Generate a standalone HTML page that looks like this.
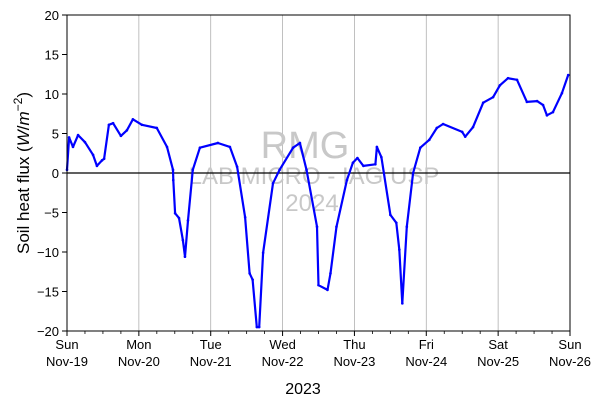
<!DOCTYPE html>
<html><head><meta charset="utf-8"><style>
body{margin:0;background:#fff}
svg text{font-family:"Liberation Sans","DejaVu Sans",sans-serif}
</style></head><body>
<svg id="chart" width="605" height="408">
<g id="grid"></g>
<g id="wm">
<text x="305" y="158" font-size="38" fill="#c8c8c8" text-anchor="middle">RMG</text>
<text x="314" y="184" font-size="24" fill="#c8c8c8" text-anchor="middle">LAB MICRO - IAG USP</text>
<text x="312" y="211" font-size="24" fill="#c8c8c8" text-anchor="middle">2024</text>
</g>
<line x1="67" x2="570" y1="173" y2="173" stroke="#000" stroke-width="1.2"/>
<g id="series"></g>
<rect x="67" y="15" width="503" height="316" fill="none" stroke="#000" stroke-width="1"/>
<g id="axes"></g>
<text x="303" y="394" font-size="16" text-anchor="middle">2023</text>
<text transform="translate(29,173) rotate(-90)" font-size="17" text-anchor="middle">Soil heat flux (<tspan font-style="italic">W</tspan>/<tspan font-style="italic">m</tspan><tspan font-size="12" dy="-7">−2</tspan><tspan dy="7">)</tspan></text>
</svg>
<script>
const hours=[0,0.7,2,3.7,6,8.7,10,11.7,12.4,14,15.4,18,20,22,25,30,33.4,35.4,35.5,36.1,37.4,38.7,39.4,40.4,42,44.4,50.4,54.4,56.8,59.5,61,62,63.4,64.2,65.5,68.8,71,75.5,77.8,80,83.5,84,87,88,90,93.5,95.5,97,99,103,103.5,105,108,110,111,112,113.5,115.6,118,121,123.5,125.6,132,133,135.6,139,142.3,144.6,147.3,150.3,153.6,157,159,160.3,162.3,165.3,167.4];
const flux=[0.4,4.5,3.3,4.8,3.9,2.3,0.9,1.6,1.8,6.1,6.3,4.7,5.4,6.8,6.1,5.7,3.3,0.4,-0.9,-5.1,-5.7,-8.5,-10.6,-6,0.4,3.2,3.8,3.3,0.8,-5.6,-12.7,-13.5,-19.5,-19.5,-10.1,-1.3,0.4,3.2,3.8,0.4,-6.8,-14.2,-14.8,-12.7,-6.8,-0.9,1.3,1.9,0.9,1.1,3.3,2,-5.3,-6.3,-9.7,-16.5,-6.8,0,3.2,4.2,5.7,6.2,5.2,4.6,5.8,8.9,9.6,11.1,12,11.8,9,9.1,8.6,7.3,7.7,10.1,12.4];
const dayNames=["Sun","Mon","Tue","Wed","Thu","Fri","Sat","Sun"];
const dayDates=["Nov-19","Nov-20","Nov-21","Nov-22","Nov-23","Nov-24","Nov-25","Nov-26"];
const yTicks=[20,15,10,5,0,-5,-10,-15,-20];
const NS="http://www.w3.org/2000/svg";
const X0=67,X1=570,Y0=15,Y1=331;
const xs=h=>X0+h/168*(X1-X0);
const ys=v=>Y0+(20-v)/40*(Y1-Y0);
function mk(tag,attrs,parent){const e=document.createElementNS(NS,tag);for(const k in attrs)e.setAttribute(k,attrs[k]);parent.appendChild(e);return e;}
const grid=document.getElementById('grid'),axes=document.getElementById('axes'),series=document.getElementById('series');
dayNames.forEach((d,i)=>{
  const x=xs(i*24);
  if(i>0&&i<7){const g=mk('line',{x1:x,x2:x,y1:Y0,y2:Y1,stroke:'#b0b0b0','stroke-width':0.8},grid);
  
  }
  const t=mk('line',{x1:x,x2:x,y1:Y1,y2:Y1+5,stroke:'#000'},axes);
  
  
  const l=mk('text',{x:x,y:Y1+18,'font-size':13,'text-anchor':'middle'},axes);
  l.textContent=d;
  
  
  const l2=mk('text',{x:x,y:Y1+35,'font-size':13,'text-anchor':'middle'},axes);
  l2.textContent=dayDates[i];
  
  
});
for(let h=6;h<168;h+=6){if(h%24===0)continue;const m=mk('line',{x1:xs(h),x2:xs(h),y1:Y1,y2:Y1+3,stroke:'#000','stroke-width':0.8},axes);

}
yTicks.forEach(v=>{
  const y=ys(v);
  const t=mk('line',{x1:X0-5,x2:X0,y1:y,y2:y,stroke:'#000'},axes);
  
  
  const l=mk('text',{x:X0-8,y:y+5,'font-size':13,'text-anchor':'end'},axes);
  l.textContent=v<0?'−'+(-v):String(v);
  
  
});
const pts=hours.map((h,i)=>xs(h).toFixed(1)+','+ys(flux[i]).toFixed(1)).join(' ');
const pl=mk('polyline',{points:pts,fill:'none',stroke:'#0000ff','stroke-width':2.2,'stroke-linejoin':'round'},series);


hours.forEach((h,i)=>{const c=mk('circle',{cx:xs(h),cy:ys(flux[i]),r:1.3,fill:'#0000ff'},series);

});
</script>
</body></html>
